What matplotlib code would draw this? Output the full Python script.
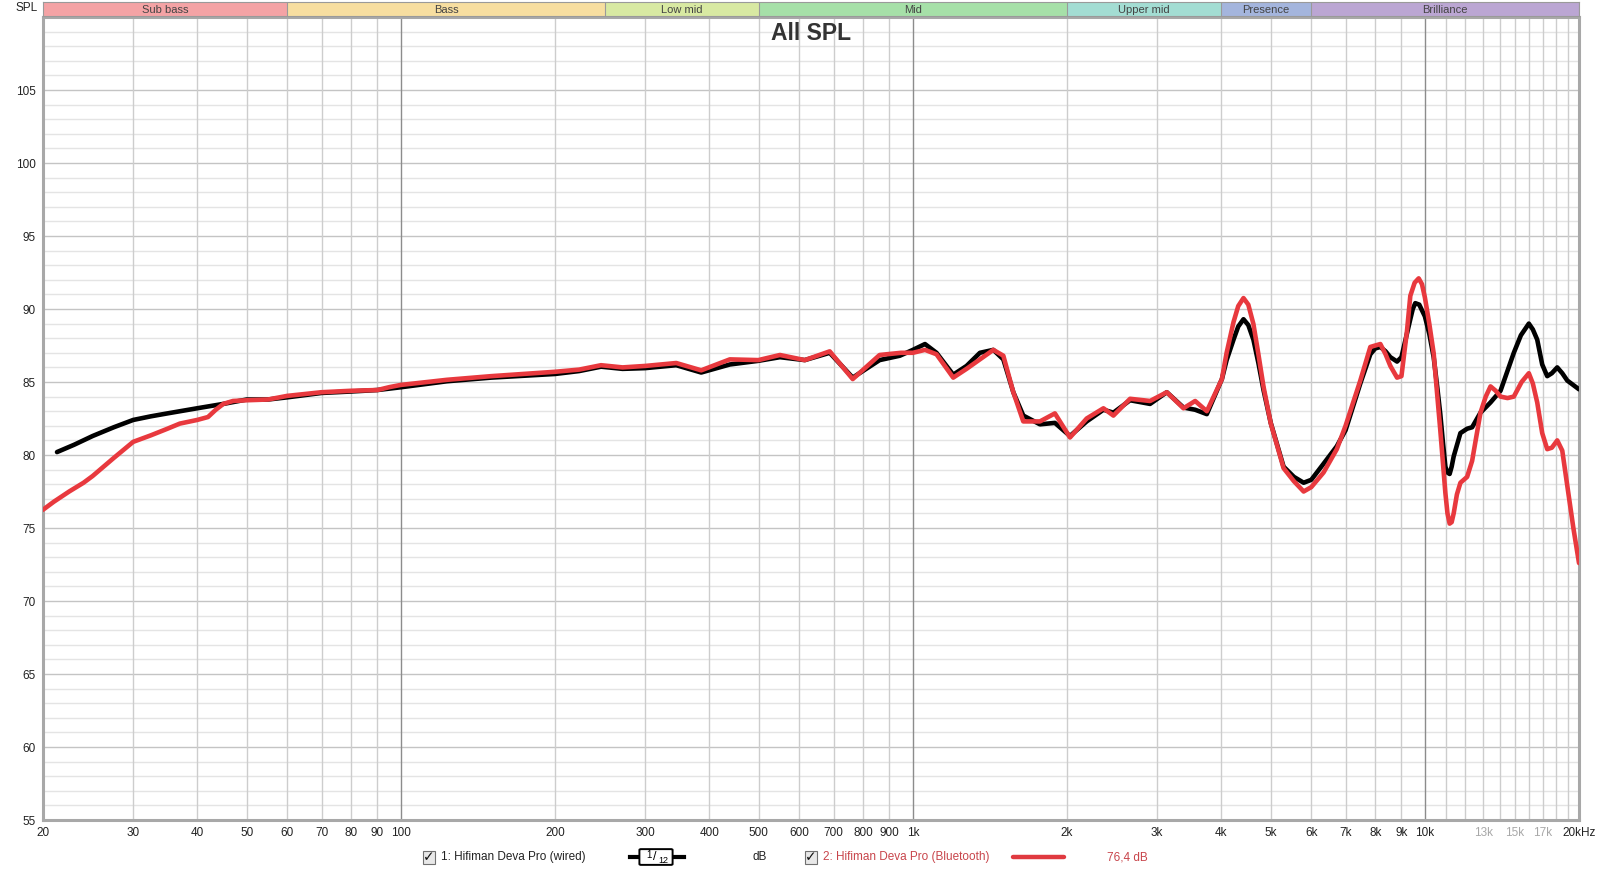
import numpy as np
import matplotlib
matplotlib.use("Agg")
import matplotlib.pyplot as plt
from matplotlib.patches import Rectangle, FancyBboxPatch

plt.rcParams["font.family"] = ["Liberation Sans", "DejaVu Sans"]

# ---- data ----
wired_f = [21.3, 23, 25, 27.5, 30, 32.5, 35, 40, 45, 50, 55, 60, 70, 80, 90, 100,
           123, 150, 200, 223, 246, 271, 300, 345, 386, 439, 499, 550, 615, 688,
           763, 861, 943, 1000, 1056, 1112, 1199, 1273, 1352, 1436, 1502, 1571,
           1643, 1771, 1894, 2027, 2185, 2356, 2464, 2656, 2906, 3133, 3377, 3559,
           3751, 4014, 4100, 4229, 4320, 4423, 4520, 4625, 4730, 4840, 5000, 5297,
           5550, 5797, 6000, 6340, 6730, 7000, 7480, 7825, 8000, 8186, 8380, 8562,
           8824, 9000, 9366, 9470, 9578, 9750, 10000, 10200, 10404, 10560, 10718,
           10850, 10966, 11070, 11178, 11280, 11383, 11733, 12092, 12368, 12841,
           13434, 14053, 14918, 15400, 15961, 16250, 16574, 16950, 17336, 17700,
           18136, 18550, 18972, 20000]
wired_db = [80.2, 80.7, 81.3, 81.9, 82.4, 82.65, 82.85, 83.2, 83.5, 83.8, 83.8,
            83.95, 84.25, 84.35, 84.45, 84.64, 85.05, 85.3, 85.55, 85.75, 86.05,
            85.9, 85.95, 86.15, 85.65, 86.2, 86.45, 86.7, 86.5, 87.0, 85.3, 86.5,
            86.8, 87.2, 87.6, 87.0, 85.5, 86.1, 87.0, 87.2, 86.55, 84.3, 82.7,
            82.1, 82.2, 81.3, 82.3, 83.1, 82.9, 83.75, 83.5, 84.3, 83.25, 83.1,
            82.8, 85.2, 86.5, 87.9, 88.8, 89.3, 88.9, 87.9, 86.3, 84.45, 82.2,
            79.2, 78.5, 78.1, 78.3, 79.4, 80.6, 81.7, 84.9, 86.9, 87.3, 87.4, 87.1,
            86.7, 86.4, 86.7, 89.3, 90.0, 90.4, 90.3, 89.5, 88.3, 86.7, 84.8, 82.8,
            80.8, 79.2, 78.8, 78.7, 79.2, 79.9, 81.5, 81.8, 81.9, 82.9, 83.6, 84.4,
            87.0, 88.2, 89.0, 88.6, 87.9, 86.2, 85.4, 85.6, 86.0, 85.6, 85.1, 84.5]

bt_f = [20, 21, 22.5, 24, 25, 27.5, 30, 32.5, 35, 37, 40, 42, 43.5, 45, 47, 50, 55,
        60, 70, 80, 90, 95, 100, 123, 150, 200, 223, 246, 271, 300, 345, 386, 439,
        499, 550, 615, 688, 763, 861, 948, 1000, 1056, 1112, 1199, 1273, 1352,
        1436, 1502, 1571, 1643, 1771, 1894, 2027, 2185, 2356, 2464, 2656, 2906,
        3133, 3377, 3559, 3751, 4014, 4100, 4229, 4320, 4423, 4520, 4625, 4730,
        4840, 5000, 5297, 5550, 5797, 6000, 6340, 6730, 7000, 7480, 7825, 8000,
        8186, 8380, 8562, 8824, 9000, 9227, 9366, 9550, 9726, 9870, 10000, 10200,
        10404, 10560, 10718, 10850, 10966, 11070, 11178, 11280, 11383, 11550,
        11733, 12092, 12368, 12841, 13150, 13434, 13750, 14053, 14500, 14918,
        15450, 15961, 16250, 16574, 16950, 17336, 17700, 18136, 18550, 18972,
        19500, 20000]
bt_db = [76.25, 76.8, 77.5, 78.1, 78.56, 79.8, 80.9, 81.35, 81.8, 82.15, 82.4,
         82.6, 83.1, 83.5, 83.7, 83.75, 83.8, 84.05, 84.3, 84.4, 84.45, 84.65,
         84.8, 85.15, 85.4, 85.7, 85.85, 86.15, 86.0, 86.1, 86.3, 85.8, 86.55,
         86.5, 86.85, 86.5, 87.1, 85.2, 86.85, 87.0, 87.0, 87.2, 86.9, 85.3,
         85.9, 86.55, 87.2, 86.8, 84.3, 82.3, 82.3, 82.85, 81.2, 82.5, 83.2,
         82.7, 83.85, 83.7, 84.3, 83.2, 83.7, 83.0, 85.2, 87.0, 89.1, 90.2,
         90.75, 90.3, 88.97, 86.9, 84.68, 82.17, 79.1, 78.2, 77.5, 77.8, 78.8,
         80.4, 82.0, 85.1, 87.4, 87.5, 87.6, 86.9, 86.1, 85.3, 85.4, 88.5, 90.9,
         91.8, 92.1, 91.7, 90.8, 89.0, 86.96, 84.3, 81.7, 79.4, 77.4, 76.0,
         75.3, 75.4, 76.0, 77.3, 78.1, 78.5, 79.6, 82.9, 84.0, 84.7, 84.4, 84.0,
         83.9, 84.0, 85.0, 85.6, 84.9, 83.6, 81.5, 80.4, 80.5, 81.0, 80.3,
         77.9, 75.0, 72.6]

bands = ["Sub bass", "Bass", "Low mid", "Mid", "Upper mid", "Presence", "Brilliance"]
band_edges = [20, 60, 250, 500, 2000, 4000, 6000, 20000]
band_colors = ["#f4a3a5", "#f7dea0", "#d8e9a2", "#a6e0a8", "#a3ddd3", "#a4b5dd", "#bba6d3"]

xtick_vals = [20, 30, 40, 50, 60, 70, 80, 90, 100, 200, 300, 400, 500, 600, 700,
              800, 900, 1000, 2000, 3000, 4000, 5000, 6000, 7000, 8000, 9000, 10000,
              13000, 15000, 17000, 20000]
xtick_labels = ["20", "30", "40", "50", "60", "70", "80", "90", "100", "200", "300",
                "400", "500", "600", "700", "800", "900", "1k", "2k", "3k", "4k", "5k",
                "6k", "7k", "8k", "9k", "10k", "13k", "15k", "17k", "20kHz"]
grey_labels = ["13k", "15k", "17k"]
ytick_vals = [55, 60, 65, 70, 75, 80, 85, 90, 95, 100, 105]

W, H = 1600, 871
fig = plt.figure(figsize=(W / 100, H / 100), dpi=100)
L, R, T, B = 43, 1579, 17, 820
ax = fig.add_axes([L / W, 1 - B / H, (R - L) / W, (B - T) / H])
ax.set_xscale("log")
ax.set_xlim(20, 20000)
ax.set_ylim(55, 110)

# grid
for db in range(56, 110):
    major = db % 5 == 0
    ax.axhline(db, color="#c4c4c4" if major else "#e4e4e4", lw=1.0, zorder=0)
grid_f = list(range(30, 100, 10)) + list(range(200, 1000, 100)) + \
    list(range(2000, 10000, 1000)) + list(range(11000, 20000, 1000))
for f in grid_f:
    ax.axvline(f, color="#cdcdcd", lw=1.0, zorder=0)
for f in [100, 1000, 10000]:
    ax.axvline(f, color="#8c8c8c", lw=1.0, zorder=0)

ax.plot(wired_f, wired_db, color="black", lw=3.3, solid_capstyle="round",
        solid_joinstyle="round", zorder=3)
ax.plot(bt_f, bt_db, color="#e8393e", lw=3.3, solid_capstyle="round",
        solid_joinstyle="round", zorder=4)

ax.set_xticks(xtick_vals)
ax.set_xticklabels(xtick_labels)
ax.xaxis.set_minor_locator(matplotlib.ticker.NullLocator())
ax.set_yticks(ytick_vals)
ax.tick_params(length=0, labelsize=8.5, colors="#222222", pad=5)
for lab in ax.get_xticklabels():
    if lab.get_text() in grey_labels:
        lab.set_color("#a8a8a8")
for s in ax.spines.values():
    s.set_color("#a8a8a8")
    s.set_linewidth(2.2)

ax.text(0.5, 0.979, "All SPL", transform=ax.transAxes, ha="center", va="center",
        fontsize=16.5, fontweight="bold", color="#333333")

# frequency band strip
bax = fig.add_axes([L / W, 1 - 16 / H, (R - L) / W, 14 / H])
bax.set_xscale("log")
bax.set_xlim(20, 20000)
bax.set_ylim(0, 1)
for name, lo, hi, c in zip(bands, band_edges[:-1], band_edges[1:], band_colors):
    bax.axvspan(lo, hi, color=c, lw=0)
    bax.axvline(hi, color="#9a9a9a", lw=0.8)
    bax.text(np.sqrt(lo * hi), 0.45, name, ha="center", va="center",
             fontsize=8, color="#444444")
bax.set_xticks([])
bax.set_yticks([])
bax.xaxis.set_minor_locator(matplotlib.ticker.NullLocator())
for s in bax.spines.values():
    s.set_color("#9a9a9a")
    s.set_linewidth(0.8)

fig.text(27 / W, 1 - 8 / H, "SPL", ha="center", va="center", fontsize=8.5, color="#222222")

# legend row
ly = 1 - 857 / H
for cx in [429, 811]:
    fig.patches.append(Rectangle(((cx - 6) / W, ly - 7 / H), 12 / W, 13 / H,
                                 transform=fig.transFigure, fc="#e8e8e8", ec="#707070", lw=0.8))
    fig.text(cx / W, ly, "\u2713", ha="center", va="center", fontsize=10,
             fontweight="bold", family="DejaVu Sans", color="#111111")
fig.text(441 / W, ly, "1: Hifiman Deva Pro (wired)", ha="left", va="center",
         fontsize=8.5, color="#222222")
fig.lines.append(plt.Line2D([630 / W, 684 / W], [ly, ly], transform=fig.transFigure,
                            color="black", lw=3))
fig.patches.append(FancyBboxPatch((641 / W, ly - 7 / H), 30 / W, 14 / H,
                                  boxstyle="round,pad=0.001", transform=fig.transFigure,
                                  fc="white", ec="black", lw=1.4, zorder=5))
fig.text(649 / W, ly + 2 / H, "1", ha="center", va="center", fontsize=7, zorder=6)
fig.text(655 / W, ly, "/", ha="center", va="center", fontsize=9, zorder=6)
fig.text(663 / W, ly - 3 / H, "12", ha="center", va="center", fontsize=6.5, zorder=6)
fig.text(760 / W, ly, "dB", ha="center", va="center", fontsize=8.5, color="#222222")
fig.text(823 / W, ly, "2: Hifiman Deva Pro (Bluetooth)", ha="left", va="center",
         fontsize=8.5, color="#c8454b")
fig.lines.append(plt.Line2D([1013 / W, 1064 / W], [ly, ly], transform=fig.transFigure,
                            color="#e03a40", lw=3.2, solid_capstyle="round"))
fig.text(1127 / W, ly, "76,4 dB", ha="center", va="center", fontsize=8.5, color="#c8454b")

fig.savefig("out.png", dpi=100)
